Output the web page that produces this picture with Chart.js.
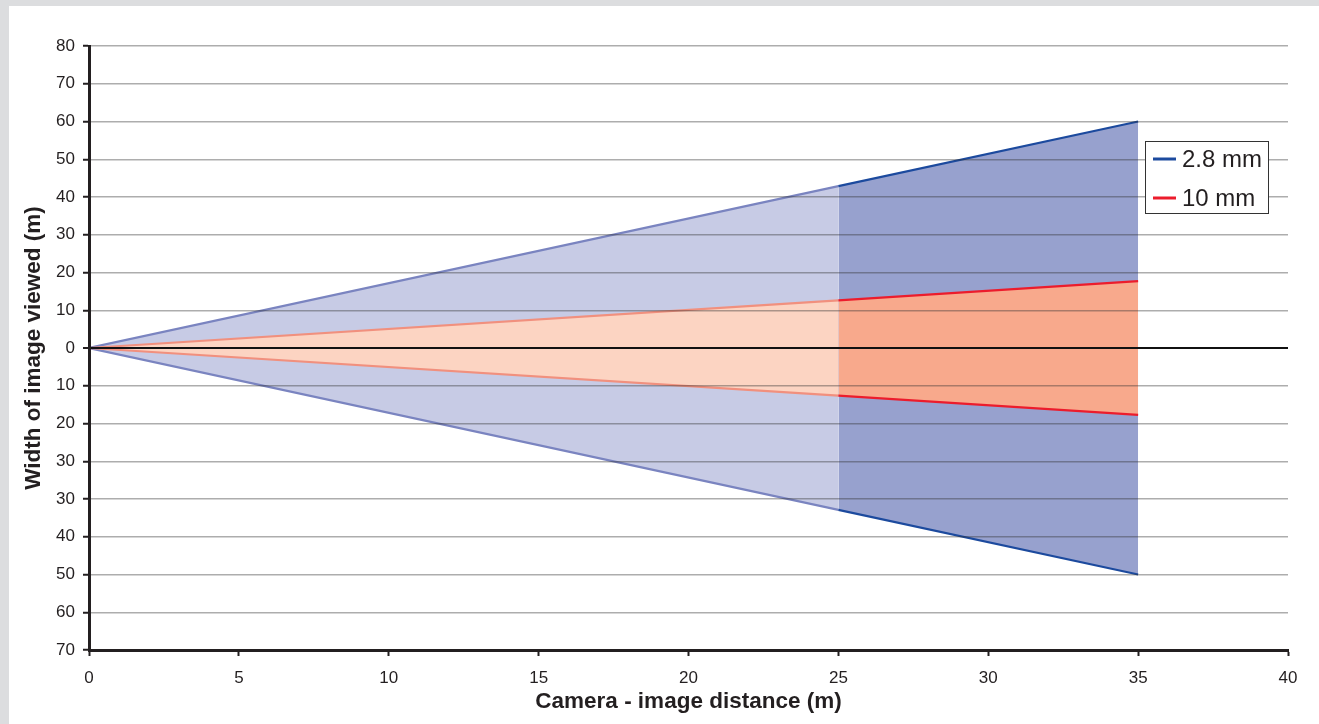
<!DOCTYPE html>
<html>
<head>
<meta charset="utf-8">
<script src="https://cdn.jsdelivr.net/npm/chart.js@4.4.0/dist/chart.umd.min.js"></script>
<style>
	body { margin: 0; background: #dcdddf; }
	#wrap { position: absolute; left: 9px; top: 6px; width: 1310px; height: 718px; background: #fff; }
</style>
</head>
<body>
<div id="wrap"><canvas id="myChart" width="1310" height="718"></canvas></div>
<script>
// distances along the x axis (m)
var distances = [0, 25, 35];
// 2.8 mm lens, upper and lower edge of the view
var wideUpper = [0, 42.9, 60];
var wideLower = [0, -42.9, -60];
// 10 mm lens
var teleUpper = [0, 12.6, 17.7];
var teleLower = [0, -12.6, -17.7];
// labels printed on the y axis, bottom (-80) to top (80)
var yTickLabels = ["70", "60", "50", "40", "30", "30", "20", "10", "0", "10", "20", "30", "40", "50", "60", "70", "80"];
var xTicks = [0, 5, 10, 15, 20, 25, 30, 35, 40];
var legendNames = ["2.8 mm", "10 mm"];

var FONT = "'Liberation Sans', Arial, sans-serif";
var TXT = "#231f20";

function pts(ys) {
	return distances.map(function (d, i) {
		return { x: d, y: ys[i] };
	});
}

// colours: light part up to 25 m, strong part after
var blue = { fillL: "#c7cbe5", fillD: "#97a1ce", lineL: "#7a84c0", lineD: "#1c4a9e" };
var red = { fillL: "#fcd4c2", fillD: "#f8a98c", lineL: "#f1907e", lineD: "#ec1c2c" };

function cone(label, ys, c, fill) {
	return {
		label: label,
		data: pts(ys),
		borderWidth: 2.2,
		pointRadius: 0,
		borderColor: c.lineD,
		backgroundColor: c.fillD,
		fill: fill,
		segment: {
			borderColor: function (s) { return s.p0.parsed.x >= 25 ? c.lineD : c.lineL; },
			backgroundColor: function (s) { return s.p0.parsed.x >= 25 ? c.fillD : c.fillL; },
		},
	};
}

var legendBox = {
	id: "legendBox",
	afterDraw: function (chart) {
		var ctx = chart.ctx;
		var a = chart.chartArea;
		var w = 123, h = 72;
		var x = a.right - 20 - w, y = a.top + 95;
		ctx.save();
		ctx.fillStyle = "#fff";
		ctx.fillRect(x, y, w, h);
		ctx.strokeStyle = "#333";
		ctx.lineWidth = 1;
		ctx.strokeRect(x + 0.5, y + 0.5, w, h);
		var cols = [blue.lineD, red.lineD];
		ctx.font = "24px " + FONT;
		ctx.textBaseline = "middle";
		for (var i = 0; i < legendNames.length; i++) {
			var ly = y + 18 + i * 39;
			ctx.strokeStyle = cols[i];
			ctx.lineWidth = 3;
			ctx.beginPath();
			ctx.moveTo(x + 8, ly);
			ctx.lineTo(x + 31, ly);
			ctx.stroke();
			ctx.fillStyle = TXT;
			ctx.fillText(legendNames[i], x + 37, ly + 1);
		}
		ctx.restore();
	},
};

var ctx = document.getElementById("myChart").getContext("2d");
var myChart = new Chart(ctx, {
	type: "line",
	data: {
		datasets: [
			cone("10 mm", teleUpper, red, "+1"),
			cone("10 mm lower", teleLower, red, false),
			cone("2.8 mm", wideUpper, blue, "+1"),
			cone("2.8 mm lower", wideLower, blue, false),
		],
	},
	options: {
		responsive: false,
		animation: false,
		layout: { padding: { top: 40, right: 31, left: 0, bottom: 0 } },
		plugins: {
			legend: { display: false },
			tooltip: { enabled: false },
			filler: { drawTime: "beforeDatasetsDraw" },
		},
		scales: {
			x: {
				type: "linear",
				min: 0,
				max: 40,
				afterBuildTicks: function (s) {
					s.ticks = xTicks.map(function (v) { return { value: v }; });
				},
				afterFit: function (s) { s.height = 74; },
				grid: { drawOnChartArea: false, tickLength: 6, tickColor: TXT, tickWidth: 2 },
				border: { color: TXT, width: 3, z: 2 },
				ticks: { color: TXT, font: { family: FONT, size: 17 }, padding: 12, maxRotation: 0 },
				title: {
					display: true,
					text: "Camera - image distance (m)",
					color: TXT,
					font: { family: FONT, size: 22.5, weight: "bold" },
					padding: { top: 0, bottom: 9 },
				},
			},
			y: {
				min: -80,
				max: 80,
				ticks: {
					stepSize: 10,
					color: TXT,
					font: { family: FONT, size: 17 },
					padding: 8,
					callback: function (v) {
						return yTickLabels[(v + 80) / 10];
					},
				},
				afterFit: function (s) { s.width = 80; },
				grid: {
					z: 1,
					tickLength: 6,
					tickColor: TXT,
					tickWidth: 2,
					color: function (c) { return c.tick && c.tick.value === 0 ? "#111" : "rgba(50,50,50,0.4)"; },
					lineWidth: function (c) { return c.tick && c.tick.value === 0 ? 2 : 1.5; },
				},
				border: { color: TXT, width: 3, z: 2 },
				title: {
					display: true,
					text: "Width of image viewed (m)",
					color: TXT,
					font: { family: FONT, size: 22.5, weight: "bold" },
					padding: { top: 11, bottom: 0 },
				},
			},
		},
	},
	plugins: [legendBox],
});
</script>
</body>
</html>
